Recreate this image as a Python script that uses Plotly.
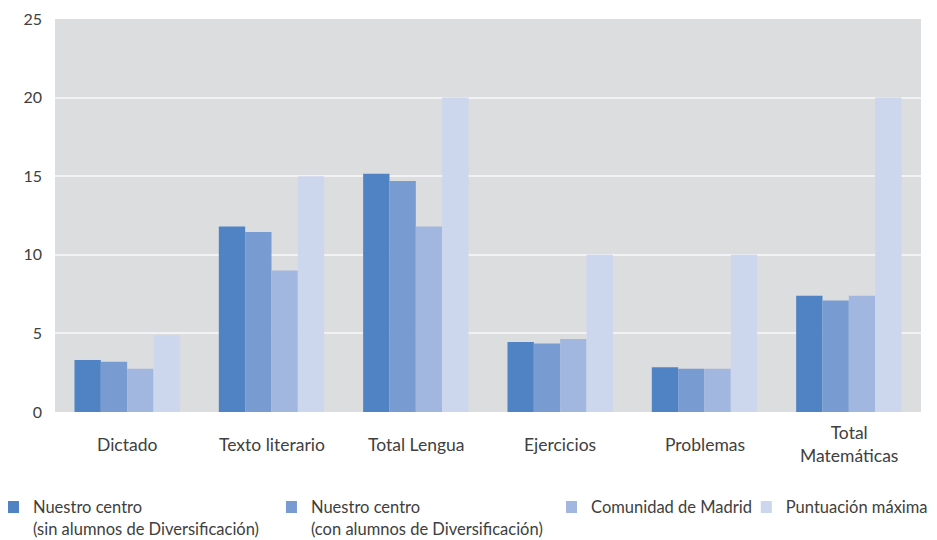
import plotly.graph_objects as go

categories = ["Dictado", "Texto literario", "Total Lengua", "Ejercicios", "Problemas", "Total Matemáticas"]
category_labels = ["Dictado", "Texto literario", "Total Lengua", "Ejercicios", "Problemas", "Total<br>Matemáticas"]
series_names = [
    "Nuestro centro<br>(sin alumnos de Diversificación)",
    "Nuestro centro<br>(con alumnos de Diversificación)",
    "Comunidad de Madrid",
    "Puntuación máxima",
]
sin_div = [3.3, 11.8, 15.15, 4.45, 2.85, 7.4]
con_div = [3.2, 11.45, 14.7, 4.35, 2.75, 7.1]
madrid = [2.75, 9.0, 11.8, 4.65, 2.75, 7.4]
maxima = [4.9, 15, 20, 10, 10, 20]
colors = ["#4F83C4", "#789BD2", "#A1B7E0", "#CCD7EE"]
y_ticks = [0, 5, 10, 15, 20, 25]

legend_ids = ["legend", "legend2", "legend3", "legend4"]
legend_x = [-0.0543, 0.2667, 0.5901, 0.8150]

fig = go.Figure()
for name, vals, col, lid in zip(series_names, [sin_div, con_div, madrid, maxima], colors, legend_ids):
    fig.add_trace(go.Bar(x=categories, y=vals, name=name, legend=lid, showlegend=True,
                         marker=dict(color=col, line=dict(width=0))))

font_family = "Lato, 'Noto Sans', sans-serif"
legend_common = dict(orientation="h", y=-0.198, xanchor="left", yanchor="top", valign="top",
                     font=dict(size=16.5, color="#404040"), bgcolor="rgba(0,0,0,0)",
                     itemwidth=30, indentation=-15, visible=True)
layout_legends = {lid: dict(x=lx, **legend_common) for lid, lx in zip(legend_ids, legend_x)}

fig.update_layout(
    width=929, height=532,
    showlegend=True,
    barmode="group", bargap=0.27, bargroupgap=0,
    plot_bgcolor="#DCDDDF", paper_bgcolor="white",
    margin=dict(l=47, r=16, t=11, b=128, autoexpand=False),
    font=dict(family=font_family, size=15, color="#404040"),
    yaxis=dict(range=[0, 25], tickvals=y_ticks, showgrid=True, gridcolor="#F2F2F4", gridwidth=1.5,
               zeroline=False, ticks="", tickfont=dict(size=16), ticklabelstandoff=12, automargin=False),
    xaxis=dict(showgrid=False, ticks="", showticklabels=False, showline=False, automargin=False),
    **layout_legends,
)
for cat, lab in zip(categories, category_labels):
    fig.add_annotation(x=cat, y=0, xref="x", yref="y", text=lab, showarrow=False,
                       yanchor="middle", yshift=-32, font=dict(size=17.5, color="#404040"))
fig.write_html("out.html")
